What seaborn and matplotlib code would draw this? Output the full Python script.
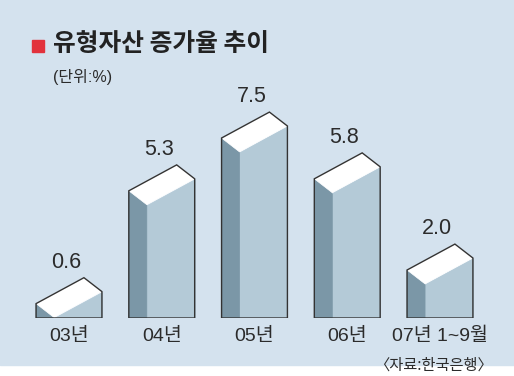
import numpy as np
import matplotlib.pyplot as plt
import seaborn as sns
from matplotlib.patches import Polygon, Rectangle

years = ["03년", "04년", "05년", "06년", "07년 1~9월"]
rates = [0.6, 5.3, 7.5, 5.8, 2.0]
value_labels = ["0.6", "5.3", "7.5", "5.8", "2.0"]

sns.set_theme(style="white")
plt.rcParams["font.family"] = ["Liberation Sans", "Noto Sans CJK KR", "DejaVu Sans"]

bg = "#d4e2ee"
front = "#b4cad7"
side = "#7b97a7"
edge = "#333333"
txt = "#2b2b2b"

fig = plt.figure(figsize=(5.14, 3.76), dpi=100)
fig.patch.set_facecolor("white")
fig.add_artist(Rectangle((0, 11 / 376), 1, 1, transform=fig.transFigure, color=bg, zorder=0))
ax = fig.add_axes([0, 58 / 376, 1, 318 / 376])
ax.set_facecolor("none")

# box geometry in data units
w = 0.71
s = 0.194
d1 = 0.58
d2 = 1.08

front_h = [v - d1 for v in rates]
sns.barplot(x=years, y=front_h, width=w, color=front, saturation=1,
            edgecolor=front, linewidth=0.5, ax=ax)

for i, v in enumerate(rates):
    x0 = i - w / 2
    x1 = i + w / 2
    ax.add_patch(Polygon([(x0, 0), (x0 + s, 0), (x0 + s, v - d1), (x0, v)],
                         facecolor=side, edgecolor=side, lw=0.5, zorder=3))
    ax.add_patch(Polygon([(x0 + s, v - d1), (x1, v - d1), (x1, v - d1 + d2)],
                         facecolor=front, edgecolor=front, lw=0.5, zorder=3))
    ax.add_patch(Polygon([(x0, v), (x0 + s, v - d1), (x1, v - d1 + d2), (x1 - s, v + d2)],
                         facecolor="white", edgecolor="white", lw=0.5, zorder=4))
    ax.add_patch(Polygon([(x0, 0), (x0, v), (x1 - s, v + d2), (x1, v - d1 + d2), (x1, 0)],
                         closed=True, fill=False, edgecolor=edge, lw=1.0, zorder=5))
    ax.text(i - 0.03, v + d2 + 0.4, value_labels[i], ha="center", va="baseline",
            fontsize=15.5, color=txt)

ax.set_xlim(-0.744, 4.798)
ax.set_ylim(0, 13.25)
ax.set_yticks([])
ax.set_xlabel("")
ax.set_ylabel("")
ax.tick_params(axis="x", length=0, pad=7, labelsize=14, labelcolor=txt)
sns.despine(ax=ax, left=True, bottom=True)

fig.add_artist(Rectangle((32 / 514, 1 - 52 / 376), 11.5 / 514, 12 / 376,
                         transform=fig.transFigure, color="#e2323c"))
fig.text(53 / 514, 1 - 44 / 376, "유형자산 증가율 추이", fontsize=17.8, fontweight="bold",
         family=["Noto Sans CJK KR"], va="center", color="#222222")
fig.text(53 / 514, 1 - 77 / 376, "(단위:%)", fontsize=11.5, va="center", color=txt)
fig.text(493 / 514, 1 - 365 / 376, "〈자료:한국은행〉", ha="right", va="center",
         fontsize=11, color=txt, family=["Noto Sans CJK KR"])

fig.savefig("out.png", dpi=100)
